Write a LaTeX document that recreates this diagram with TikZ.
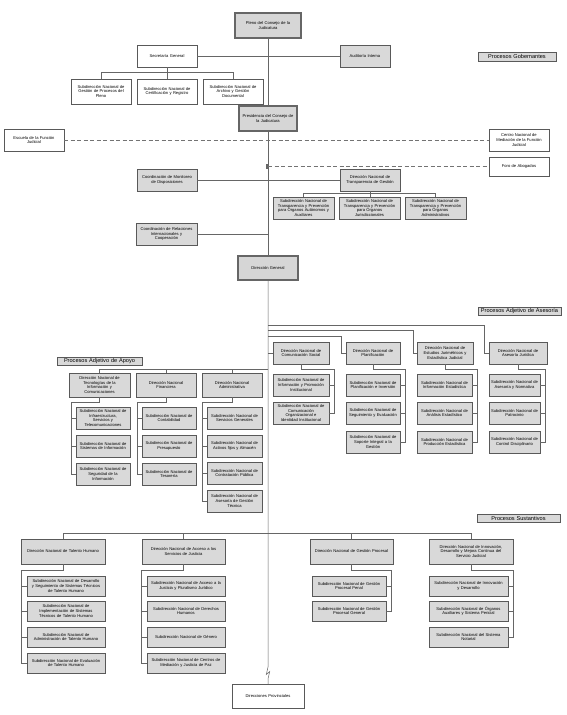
\documentclass[tikz,border=0pt]{standalone}
\usepackage{fontspec}
\setmainfont{Liberation Sans}
\usetikzlibrary{shadows}
\hyphenpenalty=10000
\exhyphenpenalty=10000
\lefthyphenmin=60
\righthyphenmin=60
\newcommand{\ob}[7][]{%
 \pgfmathsetmacro{\obcx}{(#3+#5)/2}%
 \pgfmathsetmacro{\obcy}{(#4+#6)/2}%
 \pgfmathsetmacro{\obw}{#5-#3}%
 \pgfmathsetmacro{\obh}{#6-#4}%
 \pgfmathsetmacro{\obt}{#5-#3-1.5}%
 \node[box,#1,minimum width=\obw pt,minimum height=\obh pt,text width=\obt pt] (#2) at (\obcx,\obcy) {#7};}
\newcommand{\SN}{Subdirección Nacional de}
\begin{document}
\begin{tikzpicture}[x=1pt,y=-1pt,
 box/.style={draw=black!65, line width=0.5pt, inner sep=0pt, outer sep=0pt, align=center,
   font=\fontsize{4.1}{4.6}\selectfont, text=black},
 gbox/.style={fill=black!15, general shadow={fill=black!45, shadow xshift=0.7pt, shadow yshift=-0.7pt}},
 wbox/.style={fill=white},
 mbox/.style={fill=black!16, line width=1.6pt, draw=black!60},
 lbl/.style={fill=black!15, font=\fontsize{5.6}{6}\selectfont},
 ln/.style={draw=black!60, line width=0.5pt},
 dsh/.style={draw=black!55, line width=0.7pt, dash pattern=on 4pt off 2.5pt}]
\fill[white] (0,0) rectangle (567,715);
\useasboundingbox (0,0) rectangle (567,715);

% ---------------- Gobernantes
\ob[mbox]{pleno}{235}{13}{301}{38}{Pleno del Consejo de la\\Judicatura}
\ob[wbox]{sec}{137}{45}{197}{67}{Secretaría General}
\ob[gbox]{aud}{340}{45}{390}{67}{Auditoría Interna}
\ob[lbl]{pgob}{478}{52}{556}{61}{Procesos Gobernantes}
\ob[wbox]{s1}{71}{79}{131}{104}{\SN\\Gestión de Procesos del\\Pleno}
\ob[wbox]{s2}{137}{79}{197}{104}{\SN\\Certificación y Registro}
\ob[wbox]{s3}{203}{79}{263}{104}{\SN\\Archivo y Gestión\\Documental}
\ob[mbox]{pres}{239}{106}{297}{131}{Presidencia del Consejo de\\la Judicatura}
\ob[wbox]{esc}{4}{129}{64}{151}{Escuela de la Función\\Judicial}
\ob[wbox]{cen}{489}{129}{549}{151}{Centro Nacional de\\Mediación de la Función\\Judicial}
\ob[wbox]{foro}{489}{157}{549}{176}{Foro de Abogados}
\ob[gbox]{cm}{137}{169}{197}{191}{Coordinación de Monitoreo\\de Disposiciones}
\ob[gbox]{dnt}{340}{169}{400}{191}{Dirección Nacional de\\Transparencia de Gestión}
\ob[gbox]{t1}{273}{197}{334}{219}{\SN\\Transparencia y Prevención\\para Órganos Autónomos y\\Auxiliares}
\ob[gbox]{t2}{339}{197}{400}{219}{\SN\\Transparencia y Prevención\\para Órganos\\Jurisdiccionales}
\ob[gbox]{t3}{405}{197}{466}{219}{\SN\\Transparencia y Prevención\\para Órganos\\Administrativos}
\ob[gbox]{cr}{136}{223}{197}{245}{Coordinación de Relaciones\\Internacionales y\\Cooperación}
\ob[mbox]{dg}{238}{256}{298}{280}{Dirección General}

% ---------------- Asesoría
\ob[lbl]{pase}{478}{307}{561}{315}{Procesos Adjetivo de Asesoría}
\ob[gbox]{com}{273}{342}{329}{364}{Dirección Nacional de\\Comunicación Social}
\ob[gbox]{plan}{346}{342}{400}{364}{Dirección Nacional de\\Planificación}
\ob[gbox]{est}{417}{342}{473}{364}{Dirección Nacional de\\Estudios Jurimétricos y\\Estadística Judicial}
\ob[gbox]{jur}{489}{342}{547}{364}{Dirección Nacional de\\Asesoría Jurídica}
\ob[gbox]{c1}{273}{374}{329}{396}{\SN\\Información y Promoción\\Institucional}
\ob[gbox]{c2}{273}{402}{329}{424}{\SN\\Comunicación\\Organizacional e\\Identidad Institucional}
\ob[gbox]{p1}{346}{374}{400}{396}{\SN\\Planificación e Inversión}
\ob[gbox]{p2}{346}{402}{400}{424}{\SN\\Seguimiento y Evaluación}
\ob[gbox]{p3}{346}{431}{400}{453}{\SN\\Soporte Integral a la\\Gestión}
\ob[gbox]{e1}{417}{374}{472}{396}{\SN\\Información Estadística}
\ob[gbox]{e2}{417}{402}{472}{424}{\SN\\Análisis Estadístico}
\ob[gbox]{e3}{417}{431}{472}{453}{\SN\\Producción Estadística}
\ob[gbox]{j1}{489}{374}{540}{396}{\SN\\Asesoría y Normativa}
\ob[gbox]{j2}{489}{402}{540}{424}{\SN\\Patrocinio}
\ob[gbox]{j3}{489}{431}{540}{453}{\SN\\Control Disciplinario}

% ---------------- Apoyo
\ob[lbl]{papo}{57}{357}{142}{365}{Procesos Adjetivo de Apoyo}
\ob[gbox]{tic}{69}{373}{130}{397}{Dirección Nacional de\\Tecnologías de la\\Información y\\Comunicaciones}
\ob[gbox]{fin}{136}{373}{196}{397}{Dirección Nacional\\Financiera}
\ob[gbox]{adm}{202}{373}{262}{397}{Dirección Nacional\\Administrativa}
\ob[gbox]{i1}{76}{407}{130}{429}{\SN\\Infraestructura,\\Servicios y\\Telecomunicaciones}
\ob[gbox]{i2}{76}{435}{130}{457}{\SN\\Sistemas de Información}
\ob[gbox]{i3}{76}{463}{130}{485}{\SN\\Seguridad de la\\Información}
\ob[gbox]{f1}{142}{407}{196}{429}{\SN\\Contabilidad}
\ob[gbox]{f2}{142}{435}{196}{457}{\SN\\Presupuesto}
\ob[gbox]{f3}{142}{463}{196}{485}{\SN\\Tesorería}
\ob[gbox]{d1}{207}{407}{262}{429}{\SN\\Servicios Generales}
\ob[gbox]{d2}{207}{435}{262}{457}{\SN\\Activos fijos y Almacén}
\ob[gbox]{d3}{207}{462}{262}{484}{\SN\\Contratación Pública}
\ob[gbox]{d4}{207}{490}{262}{512}{\SN\\Asesoría de Gestión\\Técnica}

% ---------------- Sustantivos
\ob[lbl]{psus}{477}{514}{560}{522}{Procesos Sustantivos}
\ob[gbox]{th}{21}{539}{105}{564}{Dirección Nacional de Talento Humano}
\ob[gbox]{acc}{142}{539}{225}{564}{Dirección Nacional de Acceso a los\\Servicios de Justicia}
\ob[gbox]{gp}{310}{539}{393}{564}{Dirección Nacional de Gestión Procesal}
\ob[gbox]{inn}{429}{539}{513}{564}{Dirección Nacional de Innovación,\\Desarrollo y Mejora Continua del\\Servicio Judicial}
\ob[gbox]{h1}{27}{576}{105}{596}{\SN\ Desarrollo\\y Seguimiento de Sistemas Técnicos\\de Talento Humano}
\ob[gbox]{h2}{27}{601}{105}{621}{\SN\\Implementación de Sistemas\\Técnicos de Talento Humano}
\ob[gbox]{h3}{27}{627}{105}{647}{\SN\\Administración de Talento Humano}
\ob[gbox]{h4}{27}{653}{105}{673}{\SN\ Evaluación\\de Talento Humano}
\ob[gbox]{a1}{147}{576}{225}{596}{\SN\ Acceso a la\\Justicia y Pluralismo Jurídico}
\ob[gbox]{a2}{147}{601}{225}{621}{\SN\ Derechos\\Humanos}
\ob[gbox]{a3}{147}{627}{225}{647}{\SN\ Género}
\ob[gbox]{a4}{147}{653}{225}{673}{\SN\ Centros de\\Mediación y Justicia de Paz}
\ob[gbox]{g1}{312}{576}{386}{596}{\SN\ Gestión\\Procesal Penal}
\ob[gbox]{g2}{312}{601}{386}{621}{\SN\ Gestión\\Procesal General}
\ob[gbox]{n1}{429}{576}{508}{596}{\SN\ Innovación\\y Desarrollo}
\ob[gbox]{n2}{429}{601}{508}{621}{\SN\ Órganos\\Auxiliares y Sistema Pericial}
\ob[gbox]{n3}{429}{627}{508}{647}{Subdirección Nacional del Sistema\\Notarial}
\ob[wbox]{dp}{232}{684}{304}{708}{Direcciones Provinciales}

% ---------------- connectors
\coordinate (z1) at (268,667);
\coordinate (z2) at (266.3,674.5);
\coordinate (z3) at (269.7,671.5);
\coordinate (z4) at (268,679);
\draw[ln] (pleno.south) -- (pres.north);
\draw[ln] (pres.south) -- (dg.north);
\draw[ln] (dg.south) -- (z1) -- (z2) -- (z3) -- (z4) -- (dp.north);

\draw[ln] (sec.east) -- (aud.west);
\draw[ln] (sec.south) -- (s2.north);
\draw[ln] (s1.north) -- ++(0,-7) -| (s3.north);

\draw[dsh] (esc.east) -- (cen.west);
\coordinate (fo0) at (268,166.5);
\draw[dsh] (fo0) -- (foro.west);
\draw[black!60, line width=1.1pt] ([xshift=-1pt,yshift=2.5pt]fo0) -- ([xshift=-1pt,yshift=-2.5pt]fo0);

\draw[ln] (cm.east) -- (dnt.west);
\draw[ln] (dnt.south) -- (dnt.south |- t2.north);
\draw[ln] (t1.north) -- ++(0,-3.5) -| (t3.north);
\draw[ln] (cr.east) -- (cr.east -| dg.south);

% Asesoría
\coordinate (m1) at (268,325);
\coordinate (m2) at (268,330);
\coordinate (m3) at (268,336);
\draw[ln] (m1) -| ([xshift=-5pt]jur.west) -- (jur.west);
\draw[ln] (m2) -| ([xshift=-4pt]est.west) -- (est.west);
\draw[ln] (m3) -| ([xshift=-5pt]plan.west) -- (plan.west);
\draw[ln] (com.west -| m1) -- (com.west);

\draw[ln] (com.south) -- ++(0,5) -| ([xshift=5pt]c2.east) -- (c2.east);
\draw[ln] (c1.east) -- ++(5,0);
\draw[ln] (plan.south) -- ++(0,5) -| ([xshift=5pt]p3.east) -- (p3.east);
\draw[ln] (p1.east) -- ++(5,0);
\draw[ln] (p2.east) -- ++(5,0);
\draw[ln] (est.south) -- ++(0,5) -| ([xshift=5pt]e3.east) -- (e3.east);
\draw[ln] (e1.east) -- ++(5,0);
\draw[ln] (e2.east) -- ++(5,0);
\draw[ln] (jur.south) -- ++(0,5) -| ([xshift=5pt]j3.east) -- (j3.east);
\draw[ln] (j1.east) -- ++(5,0);
\draw[ln] (j2.east) -- ++(5,0);

% Apoyo
\coordinate (ap) at (268,369);
\draw[ln] (ap) -| (tic.north);
\draw[ln] (fin.north) -- (fin.north |- ap);
\draw[ln] (adm.north) -- (adm.north |- ap);
\draw[ln] (tic.south) -- ++(0,5) -| ([xshift=-5pt]i3.west) -- (i3.west);
\draw[ln] (i1.west) -- ++(-5,0);
\draw[ln] (i2.west) -- ++(-5,0);
\draw[ln] (fin.south) -- ++(0,5) -| ([xshift=-5pt]f3.west) -- (f3.west);
\draw[ln] (f1.west) -- ++(-5,0);
\draw[ln] (f2.west) -- ++(-5,0);
\draw[ln] (adm.south) -- ++(0,5) -| ([xshift=-5pt]d4.west) -- (d4.west);
\draw[ln] (d1.west) -- ++(-5,0);
\draw[ln] (d2.west) -- ++(-5,0);
\draw[ln] (d3.west) -- ++(-5,0);

% Sustantivos
\draw[ln] (th.north) -- ++(0,-6) -| (inn.north);
\draw[ln] (acc.north) -- ++(0,-6);
\draw[ln] (gp.north) -- ++(0,-6);
\draw[ln] (th.south) -- ++(0,6) -| ([xshift=-6pt]h4.west) -- (h4.west);
\draw[ln] (h1.west) -- ++(-6,0);
\draw[ln] (h2.west) -- ++(-6,0);
\draw[ln] (h3.west) -- ++(-6,0);
\draw[ln] (acc.south) -- ++(0,6) -| ([xshift=-6pt]a4.west) -- (a4.west);
\draw[ln] (a1.west) -- ++(-6,0);
\draw[ln] (a2.west) -- ++(-6,0);
\draw[ln] (a3.west) -- ++(-6,0);
\draw[ln] (gp.south) -- ++(0,6) -| ([xshift=5pt]g2.east) -- (g2.east);
\draw[ln] (g1.east) -- ++(5,0);
\draw[ln] (inn.south) -- ++(0,6) -| ([xshift=5pt]n3.east) -- (n3.east);
\draw[ln] (n1.east) -- ++(5,0);
\draw[ln] (n2.east) -- ++(5,0);
\end{tikzpicture}
\end{document}
